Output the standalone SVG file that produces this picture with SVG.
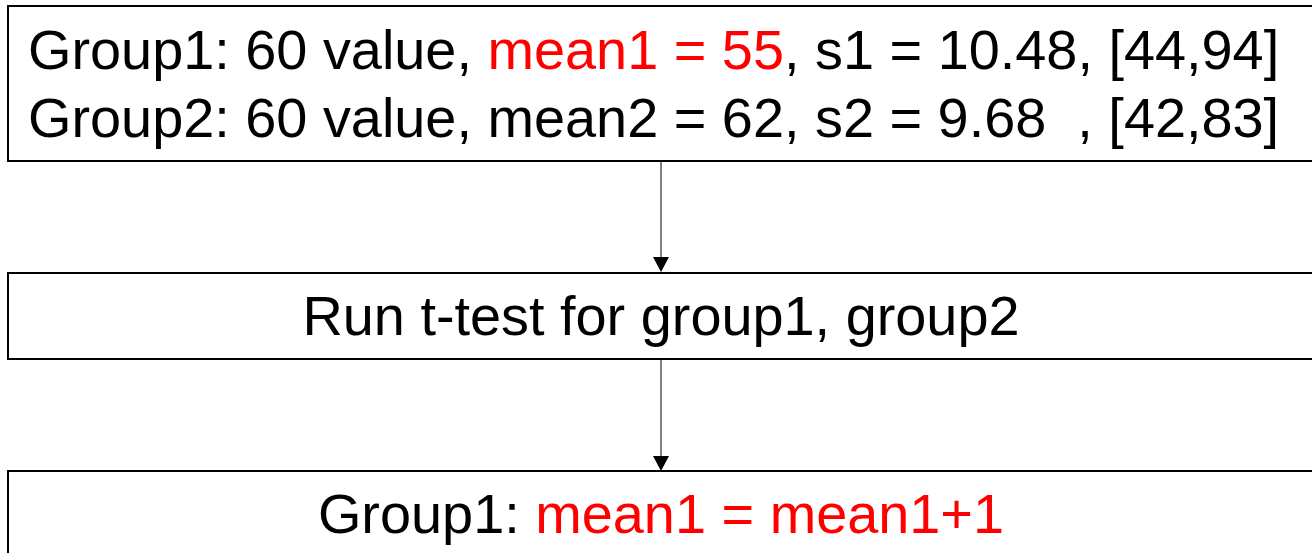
<svg xmlns="http://www.w3.org/2000/svg" width="1312" height="553" viewBox="0 0 1312 553">
<style>
.box{fill:#fff;stroke:#000;stroke-width:2}
.t{font-family:"Liberation Sans",Arial,sans-serif;font-size:55.85px;fill:#000}
.red{fill:#ff0000}
.conn{stroke:#000;stroke-width:1;fill:none}
.head{fill:#000}
</style>
<rect width="1312" height="553" fill="#fff"/>
<g id="connectors">
<line class="conn" x1="661" y1="161" x2="661" y2="258"/>
<polygon class="head" points="653,257 669,257 661,272"/>
<line class="conn" x1="661" y1="359" x2="661" y2="456"/>
<polygon class="head" points="653,456 669,456 661,471"/>
</g>
<g id="node-groups">
<rect class="box" x="8" y="6" width="1310" height="155"/>
<text class="t" x="28" y="69" xml:space="preserve">Group1: 60 value, <tspan class="red">mean1 = 55</tspan>, s1 = 10.48, [44,94]</text>
<text class="t" x="28" y="137" xml:space="preserve">Group2: 60 value, mean2 = 62, s2 = 9.68  , [42,83]</text>
</g>
<g id="node-ttest">
<rect class="box" x="8" y="273" width="1310" height="86"/>
<text class="t" x="661" y="335" text-anchor="middle">Run t-test for group1, group2</text>
</g>
<g id="node-update">
<rect class="box" x="8" y="471" width="1310" height="100"/>
<text class="t" x="661" y="533" text-anchor="middle">Group1: <tspan class="red">mean1 = mean1+1</tspan></text>
</g>
</svg>
